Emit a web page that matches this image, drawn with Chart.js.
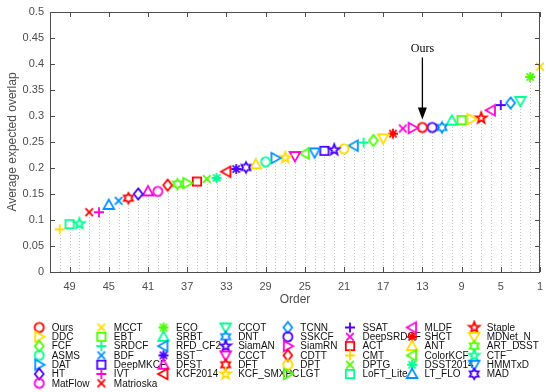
<!DOCTYPE html>
<html>
<head>
<meta charset="utf-8">
<script src="https://cdn.jsdelivr.net/npm/chart.js@4.4.0/dist/chart.umd.min.js"></script>
<style>
  html, body { margin: 0; padding: 0; background: #fff; }
</style>
</head>
<body>
<canvas id="eao" width="546" height="392"></canvas>
<script>
// Trackers in legend order (column by column), with their marker and colour.
var trackers = ['Ours', 'DDC', 'FCF', 'ASMS', 'DAT', 'HT', 'MatFlow',
  'MCCT', 'EBT', 'SRDCF', 'BDF', 'DeepMKCF', 'IVT', 'Matrioska',
  'ECO', 'SRBT', 'RFD_CF2', 'BST', 'DFST', 'KCF2014',
  'CCOT', 'DNT', 'SiamAN', 'CCCT', 'DFT', 'KCF_SMXPC',
  'TCNN', 'SSKCF', 'SiamRN', 'CDTT', 'DPT', 'LGT',
  'SSAT', 'DeepSRDCF', 'ACT', 'CMT', 'DPTG', 'LoFT_Lite',
  'MLDF', 'SHCT', 'ANT', 'ColorKCF', 'DSST2014', 'LT_FLO',
  'Staple', 'MDNet_N', 'ART_DSST', 'CTF', 'HMMTxD', 'MAD'];
var markers = ['o', '>', 'd', 'o', '>', 'd', 'o',
  'x', 's', '+', 'x', 's', '+', 'x',
  '*', '^', '<', '*', '^', '<',
  'v', 'h', 'p', 'v', 'h', 'p',
  'd', 'o', '>', 'd', 'o', '>',
  '+', 'x', 's', '+', 'x', 's',
  '<', '*', '^', '<', '*', '^',
  'p', 'v', 'h', 'p', 'v', 'h'];
var palette = ['#ff0000', '#ffdb00', '#49ff00', '#00ff92', '#0092ff', '#4900ff', '#ff00db'];
var colorIdx = [0, 1, 2, 3, 4, 5, 6,
  1, 2, 3, 4, 5, 6, 0,
  2, 3, 4, 5, 6, 0,
  3, 4, 5, 6, 0, 1,
  4, 5, 6, 0, 1, 2,
  5, 6, 0, 1, 2, 3,
  6, 0, 1, 2, 3, 4,
  0, 1, 2, 3, 4, 5];
var legendRows = [7, 7, 6, 6, 6, 6, 6, 6];

// Ranking from best (order 1) to worst, and expected average overlap.
var ranking = ['MCCT', 'ECO', 'CCOT', 'TCNN', 'SSAT', 'MLDF', 'Staple', 'DDC', 'EBT', 'SRBT',
  'DNT', 'SSKCF', 'Ours', 'SiamRN', 'DeepSRDCF', 'SHCT', 'MDNet_N', 'FCF', 'SRDCF', 'RFD_CF2',
  'DPT', 'SiamAN', 'DeepMKCF', 'HMMTxD', 'ColorKCF', 'CCCT', 'KCF_SMXPC', 'DAT', 'ASMS', 'ANT',
  'MAD', 'BST', 'KCF2014', 'DSST2014', 'DPTG', 'ACT', 'LGT', 'ART_DSST', 'CDTT', 'MatFlow',
  'DFST', 'HT', 'DFT', 'BDF', 'LT_FLO', 'IVT', 'Matrioska', 'CTF', 'LoFT_Lite', 'CMT'];
var eao = [0.395, 0.375, 0.329, 0.325, 0.321, 0.311, 0.296, 0.294, 0.292, 0.291,
  0.278, 0.278, 0.278, 0.277, 0.276, 0.266, 0.257, 0.253, 0.249, 0.243,
  0.237, 0.235, 0.233, 0.230, 0.228, 0.223, 0.220, 0.219, 0.212, 0.207,
  0.201, 0.198, 0.193, 0.181, 0.179, 0.174, 0.171, 0.169, 0.167, 0.155,
  0.155, 0.150, 0.142, 0.137, 0.129, 0.115, 0.115, 0.093, 0.092, 0.082];

var xTicks = [49, 45, 41, 37, 33, 29, 25, 21, 17, 13, 9, 5, 1];
var yTicks = [0, 0.05, 0.1, 0.15, 0.2, 0.25, 0.3, 0.35, 0.4, 0.45, 0.5];
var highlight = 'Ours';

var AXIS = '#4d4d4d';
var SANS = "'Liberation Sans', Arial, Helvetica, sans-serif";

// MATLAB-style outlined markers, pre-rendered to small canvases
function markerCanvas(shape, color) {
  var size = 16, c = size / 2;
  var cv = document.createElement('canvas');
  cv.width = size; cv.height = size;
  var g = cv.getContext('2d');
  g.strokeStyle = color;
  g.lineWidth = 1.8;
  g.lineJoin = 'miter';
  g.translate(c, c);
  g.beginPath();
  function poly(pts) {
    g.moveTo(pts[0][0], pts[0][1]);
    for (var k = 1; k < pts.length; k++) g.lineTo(pts[k][0], pts[k][1]);
    g.closePath();
  }
  function starPts(n, ro, ri) {
    var pts = [];
    for (var k = 0; k < n * 2; k++) {
      var a = -Math.PI / 2 + k * Math.PI / n;
      var rr = k % 2 ? ri : ro;
      pts.push([rr * Math.cos(a), rr * Math.sin(a)]);
    }
    return pts;
  }
  switch (shape) {
    case 'o': g.arc(0, 0, 4.6, 0, Math.PI * 2); break;
    case 's': g.rect(-4.2, -4.2, 8.4, 8.4); break;
    case 'd': poly([[0, -5.6], [4.4, 0], [0, 5.6], [-4.4, 0]]); break;
    case '^': poly([[0, -5.4], [5.3, 4], [-5.3, 4]]); break;
    case 'v': poly([[0, 5.4], [5.3, -4], [-5.3, -4]]); break;
    case '>': poly([[5.4, 0], [-4, -5.3], [-4, 5.3]]); break;
    case '<': poly([[-5.4, 0], [4, -5.3], [4, 5.3]]); break;
    case 'x':
      g.moveTo(-3.8, -3.8); g.lineTo(3.8, 3.8);
      g.moveTo(3.8, -3.8); g.lineTo(-3.8, 3.8); break;
    case '+':
      g.moveTo(-5, 0); g.lineTo(5, 0);
      g.moveTo(0, -5); g.lineTo(0, 5); break;
    case '*':
      g.moveTo(-5, 0); g.lineTo(5, 0);
      g.moveTo(0, -5); g.lineTo(0, 5);
      g.moveTo(-3.6, -3.6); g.lineTo(3.6, 3.6);
      g.moveTo(3.6, -3.6); g.lineTo(-3.6, 3.6); break;
    case 'p': poly(starPts(5, 5.6, 2.3)); break;
    case 'h': poly(starPts(6, 5.2, 3.0)); break;
  }
  g.stroke();
  return cv;
}

var markerImgs = trackers.map(function (t, i) {
  return markerCanvas(markers[i], palette[colorIdx[i]]);
});

var points = ranking.map(function (name, i) {
  return { x: i + 1, y: eao[i], name: name };
});
var pointStyles = ranking.map(function (name) {
  return markerImgs[trackers.indexOf(name)];
});

// dotted stems, inward ticks, box, the highlight arrow and the legend
var decor = {
  id: 'decor',
  beforeDatasetsDraw: function (chart) {
    var ctx = chart.ctx, xs = chart.scales.x, ys = chart.scales.y;
    ctx.save();
    ctx.strokeStyle = '#c4c4c4';
    ctx.lineWidth = 1;
    ctx.setLineDash([1, 2]);
    points.forEach(function (p) {
      var px = Math.round(xs.getPixelForValue(p.x)) + 0.5;
      ctx.beginPath();
      ctx.moveTo(px, ys.getPixelForValue(0));
      ctx.lineTo(px, ys.getPixelForValue(p.y) + 5);
      ctx.stroke();
    });
    ctx.restore();
  },
  afterDraw: function (chart) {
    var ctx = chart.ctx, a = chart.chartArea;
    var xs = chart.scales.x, ys = chart.scales.y;
    ctx.save();
    ctx.strokeStyle = AXIS;
    ctx.lineWidth = 1;
    ctx.strokeRect(a.left + 0.5, a.top + 0.5, a.right - a.left - 1, a.bottom - a.top);
    ctx.beginPath();
    xTicks.forEach(function (v) {
      var px = Math.round(xs.getPixelForValue(v)) + 0.5;
      ctx.moveTo(px, a.bottom); ctx.lineTo(px, a.bottom - 5);
      ctx.moveTo(px, a.top); ctx.lineTo(px, a.top + 5);
    });
    yTicks.forEach(function (v) {
      var py = Math.round(ys.getPixelForValue(v)) + 0.5;
      ctx.moveTo(a.left, py); ctx.lineTo(a.left + 5, py);
      ctx.moveTo(a.right, py); ctx.lineTo(a.right - 5, py);
    });
    ctx.stroke();

    // arrow pointing at the highlighted tracker
    var r = ranking.indexOf(highlight);
    var hx = xs.getPixelForValue(r + 1), hy = ys.getPixelForValue(eao[r]);
    var tip = hy - 8, tail = hy - 70;
    ctx.strokeStyle = '#000';
    ctx.fillStyle = '#000';
    ctx.lineWidth = 1.3;
    ctx.beginPath();
    ctx.moveTo(hx, tail); ctx.lineTo(hx, tip - 8);
    ctx.stroke();
    ctx.beginPath();
    ctx.moveTo(hx, tip); ctx.lineTo(hx - 4.5, tip - 12); ctx.lineTo(hx + 4.5, tip - 12);
    ctx.closePath();
    ctx.fill();
    ctx.font = "12px 'Liberation Serif', 'Times New Roman', serif";
    ctx.textAlign = 'center';
    ctx.textBaseline = 'middle';
    ctx.fillText(highlight, hx, tail - 9);

    // legend, filled column by column
    ctx.font = '10px ' + SANS;
    ctx.textAlign = 'left';
    ctx.fillStyle = '#111';
    var idx = 0;
    legendRows.forEach(function (n, col) {
      var tx = 51.7 + col * 62.15;
      for (var row = 0; row < n; row++, idx++) {
        var ly = 327.5 + row * 9.3;
        var img = markerImgs[idx];
        ctx.drawImage(img, tx - 12.5 - img.width / 2, ly - img.height / 2);
        ctx.fillText(trackers[idx], tx, ly + 0.5);
      }
    });
    ctx.restore();
  }
};

new Chart(document.getElementById('eao'), {
  type: 'scatter',
  data: {
    datasets: [{
      data: points,
      pointStyle: pointStyles,
      pointRadius: 5,
      clip: false
    }]
  },
  options: {
    responsive: false,
    animation: false,
    layout: { padding: { top: 12, right: 1, left: 0, bottom: 0 } },
    plugins: { legend: { display: false }, tooltip: { enabled: false } },
    scales: {
      x: {
        type: 'linear', reverse: true, min: 1, max: 51,
        afterBuildTicks: function (s) { s.ticks = xTicks.map(function (v) { return { value: v }; }); },
        afterFit: function (s) { s.height = 120; s.paddingLeft = 0; s.paddingRight = 0; },
        grid: { display: false, drawTicks: false },
        border: { display: false },
        ticks: { padding: 8, color: AXIS, autoSkip: false, maxRotation: 0, font: { family: SANS, size: 11 } },
        title: { display: true, text: 'Order', color: AXIS, font: { family: SANS, size: 12 }, padding: { top: 0, bottom: 85 } }
      },
      y: {
        min: 0, max: 0.5,
        afterBuildTicks: function (s) { s.ticks = yTicks.map(function (v) { return { value: v }; }); },
        afterFit: function (s) { s.width = 50; s.paddingTop = 0; s.paddingBottom = 0; },
        grid: { display: false, drawTicks: false },
        border: { display: false },
        ticks: {
          padding: 6, color: AXIS, font: { family: SANS, size: 11 },
          callback: function (v) { return String(Number(v.toFixed(2))); }
        },
        title: { display: true, text: 'Average expected overlap', color: AXIS, font: { family: SANS, size: 12 }, padding: { top: 5 } }
      }
    }
  },
  plugins: [decor]
});
</script>
</body>
</html>
